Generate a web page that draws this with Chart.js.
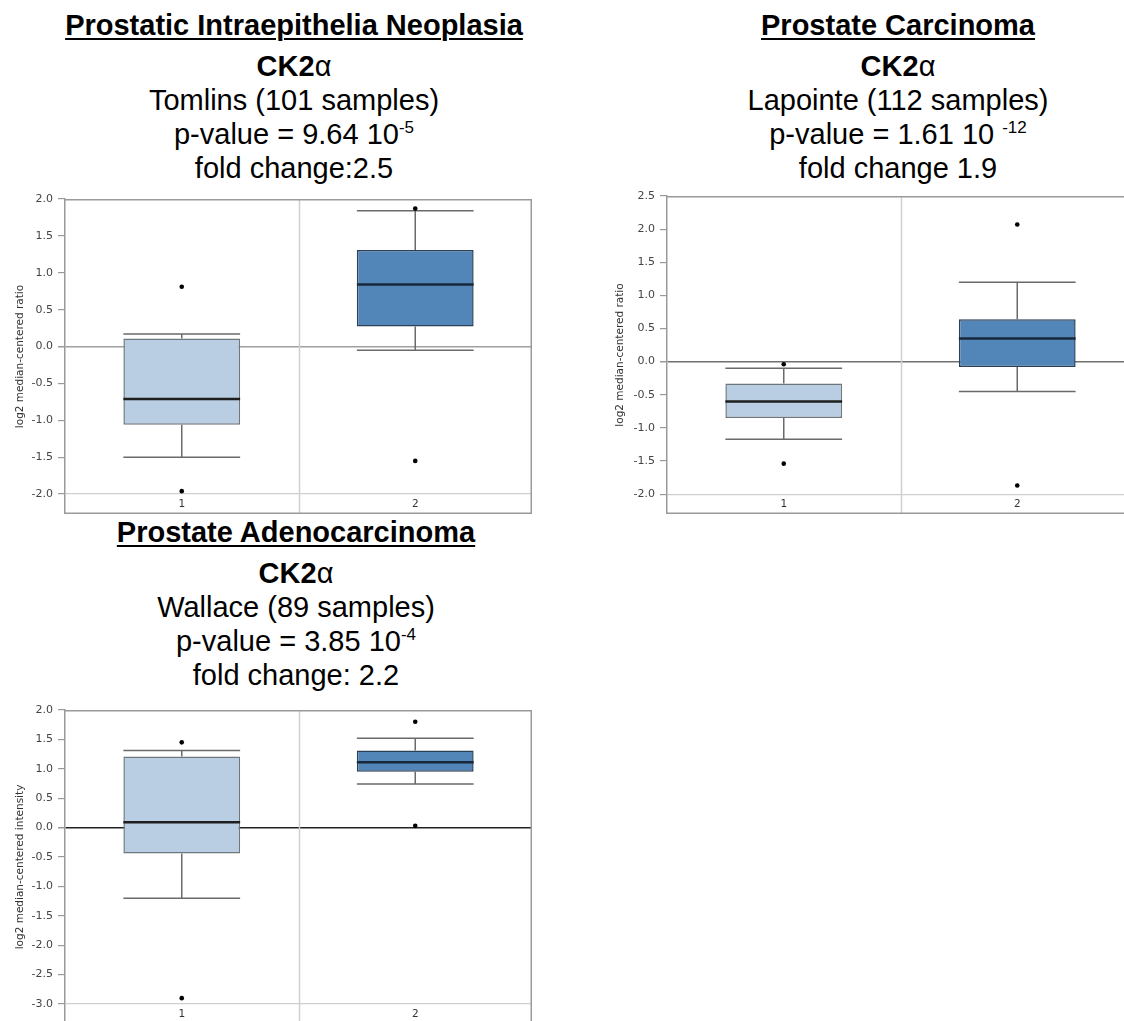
<!DOCTYPE html>
<html>
<head>
<meta charset="utf-8">
<script src="https://cdn.jsdelivr.net/npm/chart.js@4.4.1/dist/chart.umd.min.js"></script>
<style>
html, body { margin: 0; padding: 0; overflow: hidden; background: #fff; }
body { width: 1124px; height: 1021px; position: relative; font-family: "Liberation Sans", Arial, sans-serif; }
.head { position: absolute; width: 500px; text-align: center; font-size: 29px; line-height: 34px; color: #000; }
.head .t { font-weight: bold; text-decoration: underline; text-decoration-thickness: 2px; text-underline-offset: 3px; margin-bottom: 7px; }
.head .g { font-weight: bold; }
.head .g span { font-weight: normal; }
.head sup { font-size: 17px; line-height: 0; vertical-align: 11px; }
canvas { position: absolute; }
</style>
</head>
<body>

<div class="head" style="left:44px; top:8px;">
  <div class="t">Prostatic Intraepithelia Neoplasia</div>
  <div class="g">CK2<span>α</span></div>
  <div>Tomlins (101 samples)</div>
  <div>p-value = 9.64 10<sup>-5</sup></div>
  <div>fold change:2.5</div>
</div>

<div class="head" style="left:648px; top:8px;">
  <div class="t">Prostate Carcinoma</div>
  <div class="g">CK2<span>α</span></div>
  <div>Lapointe (112 samples)</div>
  <div>p-value = 1.61 10 <sup>-12</sup></div>
  <div>fold change 1.9</div>
</div>

<div class="head" style="left:46px; top:515px;">
  <div class="t">Prostate Adenocarcinoma</div>
  <div class="g">CK2<span>α</span></div>
  <div>Wallace (89 samples)</div>
  <div>p-value = 3.85 10<sup>-4</sup></div>
  <div>fold change: 2.2</div>
</div>

<canvas id="pin" width="532" height="327" style="left:0; top:187px;"></canvas>
<canvas id="carc" width="534" height="330" style="left:600px; top:184px;"></canvas>
<canvas id="adeno" width="532" height="326" style="left:0; top:698px;"></canvas>

<script>
const groups = ['1', '2'];

// Tomlins - prostatic intraepithelial neoplasia
const pinLow = [-1.50, -0.05];
const pinQ1 = [-1.06, 0.27];
const pinMed = [-0.71, 0.84];
const pinQ3 = [0.11, 1.31];
const pinHigh = [0.17, 1.84];
const pinOut = [[0.81, -1.96], [1.87, -1.55]];
const pinRange = [-2.27, 2.0];

// Lapointe - prostate carcinoma
const carcLow = [-1.17, -0.45];
const carcQ1 = [-0.85, -0.08];
const carcMed = [-0.60, 0.35];
const carcQ3 = [-0.33, 0.64];
const carcHigh = [-0.10, 1.20];
const carcOut = [[-0.04, -1.54], [2.07, -1.87]];
const carcRange = [-2.30, 2.5];

// Wallace - prostate adenocarcinoma
const adenoLow = [-1.20, 0.74];
const adenoQ1 = [-0.44, 0.95];
const adenoMed = [0.09, 1.11];
const adenoQ3 = [1.21, 1.31];
const adenoHigh = [1.31, 1.52];
const adenoOut = [[1.45, -2.90], [1.80, 0.03]];
const adenoRange = [-3.34, 2.0];

Chart.defaults.font.family = '"DejaVu Sans", sans-serif';

// whiskers, medians, frame and group labels, all placed with the chart scales
const boxParts = {
  id: 'boxParts',
  beforeDatasetsDraw(chart, args, o) {
    const ctx = chart.ctx, x = chart.scales.x, y = chart.scales.y, a = chart.chartArea;
    const bars = chart.getDatasetMeta(0).data;
    ctx.save();
    // divider between the two groups
    ctx.strokeStyle = '#cfcfcf';
    ctx.lineWidth = 1.5;
    ctx.beginPath();
    ctx.moveTo(Math.round((a.left + a.right) / 2) + 0.5, a.top);
    ctx.lineTo(Math.round((a.left + a.right) / 2) + 0.5, a.bottom);
    ctx.stroke();
    ctx.strokeStyle = '#6a6a6a';
    ctx.lineWidth = 1.5;
    o.low.forEach((v, i) => {
      const cx = x.getPixelForValue(i), hw = bars[i].width / 2;
      const yl = y.getPixelForValue(v), yh = y.getPixelForValue(o.high[i]);
      ctx.beginPath();
      ctx.moveTo(cx, yh); ctx.lineTo(cx, y.getPixelForValue(o.q3[i]));
      ctx.moveTo(cx, yl); ctx.lineTo(cx, y.getPixelForValue(o.q1[i]));
      ctx.moveTo(cx - hw, yh); ctx.lineTo(cx + hw, yh);
      ctx.moveTo(cx - hw, yl); ctx.lineTo(cx + hw, yl);
      ctx.stroke();
    });
    ctx.restore();
  },
  afterDatasetsDraw(chart, args, o) {
    const ctx = chart.ctx, x = chart.scales.x, y = chart.scales.y;
    const bars = chart.getDatasetMeta(0).data;
    ctx.save();
    ctx.lineWidth = 2.5;
    o.med.forEach((v, i) => {
      const cx = x.getPixelForValue(i), hw = bars[i].width / 2, ym = y.getPixelForValue(v);
      ctx.strokeStyle = i == 0 ? '#1e1e1e' : '#17283a';
      ctx.beginPath();
      ctx.moveTo(cx - hw, ym); ctx.lineTo(cx + hw, ym);
      ctx.stroke();
    });
    ctx.restore();
  },
  afterDraw(chart) {
    const ctx = chart.ctx, x = chart.scales.x, y = chart.scales.y, a = chart.chartArea;
    ctx.save();
    ctx.strokeStyle = '#9a9a9a';
    ctx.lineWidth = 1.5;
    ctx.beginPath();
    ctx.moveTo(a.left, a.top + 0.75); ctx.lineTo(a.right - 0.75, a.top + 0.75);
    ctx.lineTo(a.right - 0.75, a.bottom - 0.75); ctx.lineTo(a.left, a.bottom - 0.75);
    ctx.stroke();
    const lowest = y.getPixelForValue(y.ticks[0].value);
    ctx.fillStyle = '#333';
    ctx.font = '10.5px "DejaVu Sans"';
    ctx.textAlign = 'center';
    ctx.textBaseline = 'middle';
    groups.forEach((g, i) => ctx.fillText(g, x.getPixelForValue(i), (lowest + a.bottom) / 2));
    ctx.restore();
  }
};

function boxChart(id, o) {
  var outliers = [];
  o.out.forEach((list, i) => list.forEach(v => outliers.push({ x: groups[i], y: v })));

  return new Chart(document.getElementById(id), {
    type: 'bar',
    data: {
      labels: groups,
      datasets: [{
        data: o.q1.map((v, i) => [v, o.q3[i]]),
        backgroundColor: ['#b9cee2', '#5386b8'],
        borderColor: ['#70767d', '#2b3f57'],
        borderWidth: 1.5,
        borderSkipped: false,
        barPercentage: 0.5,
        categoryPercentage: 1
      }, {
        type: 'line',
        data: outliers,
        showLine: false,
        pointRadius: 2.3,
        pointBorderWidth: 0,
        pointBackgroundColor: '#000'
      }]
    },
    options: {
      responsive: false,
      devicePixelRatio: 1,
      animation: false,
      layout: { autoPadding: false, padding: { top: 12, right: 0, bottom: 0, left: 0 } },
      plugins: {
        legend: { display: false },
        tooltip: { enabled: false },
        boxParts: o
      },
      scales: {
        x: { display: false },
        y: {
          min: o.range[0],
          max: o.range[1],
          ticks: {
            stepSize: 0.5,
            padding: 5,
            color: '#444',
            font: { size: 11 },
            callback: v => (Math.round(v * 10) / 10).toFixed(1)
          },
          afterBuildTicks: s => {
            s.ticks = s.ticks.filter(t => Math.abs(t.value * 2 - Math.round(t.value * 2)) < 1e-6);
          },
          afterFit: s => {
            s.width = o.axisWidth;
            s.paddingTop = 0;
            s.paddingBottom = 0;
          },
          grid: {
            color: c => c.tick && Math.abs(c.tick.value) < 1e-6 ? o.zeroColor : (c.index === 0 ? '#cfcfcf' : 'rgba(0,0,0,0)'),
            lineWidth: c => c.tick && Math.abs(c.tick.value) < 1e-6 ? 1.5 : 1.2,
            tickColor: '#9a9a9a',
            tickLength: 7
          },
          border: { color: '#9a9a9a', width: 1.5 },
          title: {
            display: true,
            text: o.title,
            color: '#333',
            font: { size: 10.5 },
            padding: { top: 14, bottom: 0 }
          }
        }
      }
    },
    plugins: [boxParts]
  });
}

boxChart('pin', {
  low: pinLow, q1: pinQ1, med: pinMed, q3: pinQ3, high: pinHigh, out: pinOut,
  range: pinRange, axisWidth: 65, zeroColor: '#a0a0a0', title: 'log2 median-centered ratio'
});
boxChart('carc', {
  low: carcLow, q1: carcQ1, med: carcMed, q3: carcQ3, high: carcHigh, out: carcOut,
  range: carcRange, axisWidth: 67, zeroColor: '#707070', title: 'log2 median-centered ratio'
});
boxChart('adeno', {
  low: adenoLow, q1: adenoQ1, med: adenoMed, q3: adenoQ3, high: adenoHigh, out: adenoOut,
  range: adenoRange, axisWidth: 65, zeroColor: '#222', title: 'log2 median-centered intensity'
});
</script>
</body>
</html>
